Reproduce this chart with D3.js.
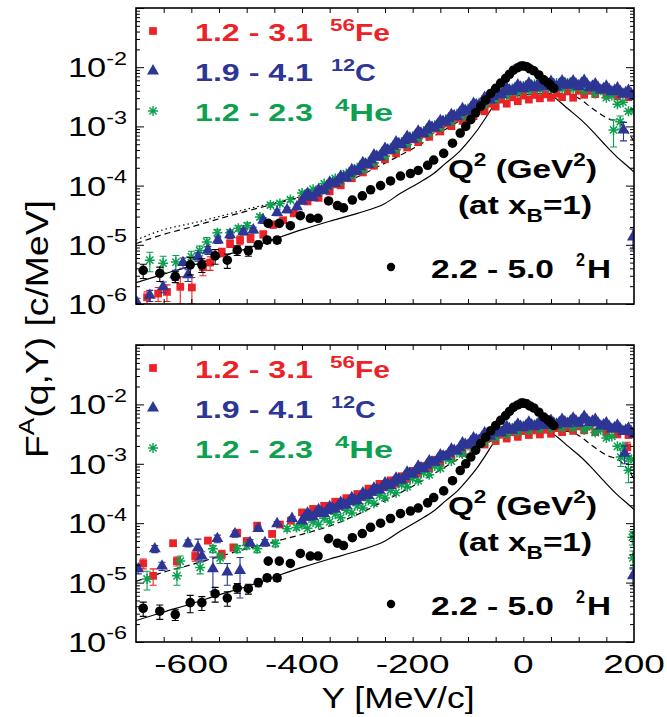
<!DOCTYPE html>
<html><head><meta charset="utf-8">
<script src="https://cdn.jsdelivr.net/npm/d3@7"></script>
<style>
body{margin:0;background:#fff}
text{font-family:"Liberation Sans",Arial,Helvetica,sans-serif;white-space:pre}
</style></head>
<body><svg id="chart" width="667" height="717"></svg>
<script>
// ---------------- DATA ----------------
const gridY = [-400,-390,-380,-370,-360,-350,-340,-330,-320,-310,-300,-290,-280,-270,-260,-250,-240,-230,-220,-210,-200,-190,-180,-170,-160,-150,-140,-130,-120,-110,-100,-90,-80,-70,-60,-50,-40,-30,-20,-10,0,10,20,30,40,50,60,70,80,90,100,110,120,130,140,150,160,170,180,190,200];
const gridY2 = [-395,-385,-375,-365,-355,-345,-335,-325,-315,-305,-295,-285,-275,-265,-255,-245,-235,-225,-215,-205,-195,-185,-175,-165,-155,-145,-135,-125,-115,-105,-95,-85,-75,-65,-55,-45,-35,-25,-15,-5,5,15,25,35,45,55,65,75,85,95,105,115,125,135,145,155,165,175,185,195];

// top panel, dense region (values on gridY)
const topC = [5.5e-5,7.4e-5,6.3e-5,8.5e-5,8.4e-5,1.14e-4,1.08e-4,1.44e-4,1.36e-4,1.86e-4,
1.76e-4,2.45e-4,2.25e-4,3.3e-4,3.05e-4,4.26e-4,3.93e-4,5.49e-4,4.94e-4,6.75e-4,
6.08e-4,8.3e-4,7.48e-4,1.02e-3,9.4e-4,1.25e-3,1.19e-3,1.58e-3,1.45e-3,1.99e-3,
1.79e-3,2.45e-3,2.25e-3,3.08e-3,2.78e-3,3.8e-3,3.42e-3,4.46e-3,3.93e-3,5.0e-3,
4.31e-3,5.36e-3,4.51e-3,5.6e-3,4.6e-3,5.75e-3,4.6e-3,5.88e-3,4.94e-3,5.88e-3,
4.72e-3,6.0e-3,4.51e-3,5.24e-3,4.11e-3,4.78e-3,3.84e-3,4.46e-3,3.5e-3,4.07e-3,3.19e-3];
// top panel, second 12C set (values on gridY2)
const topC2 = [6.4e-5,6.6e-5,7.4e-5,8.2e-5,9.8e-5,1.08e-4,1.24e-4,1.36e-4,1.6e-4,1.75e-4,
2.08e-4,2.3e-4,2.7e-4,3.1e-4,3.6e-4,4.0e-4,4.6e-4,5.1e-4,5.75e-4,6.3e-4,
7.1e-4,7.7e-4,8.7e-4,9.6e-4,1.08e-3,1.2e-3,1.35e-3,1.5e-3,1.7e-3,1.85e-3,
2.08e-3,2.3e-3,2.6e-3,2.9e-3,3.2e-3,3.55e-3,3.85e-3,4.1e-3,4.4e-3,4.6e-3,
4.75e-3,4.85e-3,4.95e-3,5.05e-3,5.05e-3,5.1e-3,5.15e-3,5.3e-3,5.25e-3,5.2e-3,
5.3e-3,5.15e-3,4.8e-3,4.55e-3,4.35e-3,4.2e-3,4.05e-3,3.9e-3,3.7e-3,3.55e-3];
const topFe = [5.5e-5,5.4e-5,6.3e-5,6.2e-5,8.4e-5,8.0e-5,1.05e-4,1.01e-4,1.35e-4,1.33e-4,
1.74e-4,1.67e-4,2.24e-4,2.16e-4,3.03e-4,2.78e-4,3.9e-4,3.5e-4,4.92e-4,4.41e-4,
6.05e-4,5.43e-4,7.44e-4,6.67e-4,9.15e-4,8.21e-4,1.12e-3,1.01e-3,1.39e-3,1.24e-3,
1.66e-3,1.49e-3,2.0e-3,1.8e-3,2.41e-3,2.16e-3,2.83e-3,2.42e-3,3.1e-3,2.66e-3,
3.32e-3,2.84e-3,3.4e-3,2.98e-3,3.48e-3,3.05e-3,3.56e-3,3.12e-3,3.9e-3,3.05e-3,
3.99e-3,3.42e-3,3.99e-3,3.5e-3,4.09e-3,3.42e-3,3.99e-3,3.2e-3,3.73e-3,3.12e-3,3.48e-3];
const topHe = [7.5e-5,6.8e-5,8.7e-5,8.0e-5,1.08e-4,9.9e-5,1.32e-4,1.19e-4,1.6e-4,1.46e-4,
2.0e-4,1.84e-4,2.52e-4,2.42e-4,3.32e-4,3.12e-4,4.28e-4,4.02e-4,5.39e-4,4.95e-4,
6.79e-4,6.23e-4,8.35e-4,7.66e-4,1.05e-3,9.45e-4,1.32e-3,1.19e-3,1.63e-3,1.49e-3,
2.0e-3,1.84e-3,2.52e-3,2.31e-3,3.1e-3,2.84e-3,3.82e-3,3.35e-3,4.38e-3,3.75e-3,
4.81e-3,4.02e-3,5.15e-3,4.21e-3,5.27e-3,4.31e-3,5.39e-3,4.31e-3,5.39e-3,4.31e-3,
5.15e-3,4.02e-3,4.7e-3,3.58e-3,4.09e-3,3.05e-3,3.32e-3,2.37e-3,2.57e-3,1.8e-3,1.83e-3];

// top panel, sparse points [Y, F, error]
const topFeSparse = [[-680,1.3e-6,0.3e-6],[-660,1.5e-6,0.4e-6],[-644,1.6e-6,0.5e-6],[-620,1.95e-6,0.95e-6],[-599,1.9e-6,0.9e-6],[-579,4.2e-6,1.2e-6],[-566,5.0e-6,1.3e-6],[-545,7.5e-6,1.2e-6],[-530,1.05e-5,1.5e-6],[-512,1.2e-5,2e-6],[-493,1.3e-5,2e-6],[-470,1.5e-5,2e-6],[-452,2.2e-5,3e-6],[-434,2.6e-5,3e-6],[-415,3.4e-5,4e-6]];
const topCSparse = [[-698,1.05e-6,0.2e-6],[-675,1.4e-6,0.3e-6],[-651,1.95e-6,0.4e-6],[-629,3.1e-6,0.6e-6],[-615,5.0e-6,1.0e-6],[-606,3.1e-6,0.7e-6],[-588,6.3e-6,1.0e-6],[-570,8.1e-6,1.2e-6],[-552,1.2e-5,1.5e-6],[-530,1.48e-5,2e-6],[-506,1.66e-5,2e-6],[-488,1.78e-5,2e-6],[-470,2.6e-5,3e-6],[-445,3.5e-5,4e-6],[-427,3.9e-5,4e-6],[-409,4.4e-5,5e-6],[181,8.7e-4,3e-4],[198,1.35e-5,5e-6]];
const topHeSparse = [[-675,5.5e-6,2e-6],[-651,4.9e-6,1.5e-6],[-628,5.1e-6,1.5e-6],[-600,6.3e-6,1.5e-6],[-585,8.0e-6,1.5e-6],[-572,1.12e-5,2e-6],[-553,1.6e-5,2e-6],[-530,1.6e-5,2e-6],[-515,1.9e-5,2e-6],[-499,2.1e-5,2.5e-6],[-476,2.95e-5,3e-6],[-457,4.7e-5,4e-6],[-440,5.0e-5,4e-6],[-421,5.8e-5,5e-6],[163,8.7e-4,4.2e-4],[175,1.2e-3,3e-4]];

// bottom panel, dense region (values on gridY)
const botC = [1.10e-4,1.48e-4,1.27e-4,1.69e-4,1.45e-4,1.9e-4,1.71e-4,2.24e-4,2.01e-4,2.69e-4,
2.36e-4,3.23e-4,2.91e-4,3.89e-4,3.58e-4,4.78e-4,4.31e-4,5.75e-4,5.29e-4,7.24e-4,
6.66e-4,9.1e-4,8.2e-4,1.12e-3,1.06e-3,1.41e-3,1.33e-3,1.77e-3,1.64e-3,2.24e-3,
2.06e-3,2.74e-3,2.47e-3,3.3e-3,2.91e-3,3.8e-3,3.34e-3,4.26e-3,3.66e-3,4.67e-3,
4.02e-3,5.0e-3,4.2e-3,5.24e-3,4.41e-3,5.36e-3,4.51e-3,5.61e-3,4.72e-3,5.88e-3,
4.83e-3,6.3e-3,4.94e-3,5.61e-3,4.31e-3,4.89e-3,3.84e-3,4.46e-3,3.5e-3,3.98e-3,3.12e-3];
// bottom panel, second 12C set (values on gridY2)
const botC2 = [1.27e-4,1.33e-4,1.45e-4,1.55e-4,1.63e-4,1.8e-4,1.92e-4,2.1e-4,2.3e-4,2.47e-4,
2.72e-4,3.0e-4,3.3e-4,3.7e-4,4.05e-4,4.5e-4,4.9e-4,5.45e-4,6.1e-4,6.85e-4,
7.7e-4,8.5e-4,9.5e-4,1.07e-3,1.2e-3,1.35e-3,1.5e-3,1.68e-3,1.88e-3,2.12e-3,
2.35e-3,2.56e-3,2.82e-3,3.05e-3,3.28e-3,3.5e-3,3.72e-3,3.9e-3,4.08e-3,4.27e-3,
4.42e-3,4.52e-3,4.62e-3,4.73e-3,4.79e-3,4.85e-3,4.95e-3,5.07e-3,5.2e-3,5.25e-3,
5.45e-3,5.5e-3,5.2e-3,4.85e-3,4.5e-3,4.27e-3,4.07e-3,3.9e-3,3.68e-3,3.47e-3];
const botFe = [1.52e-4,1.27e-4,1.74e-4,1.46e-4,1.96e-4,1.67e-4,2.3e-4,1.97e-4,2.64e-4,2.37e-4,
3.1e-4,2.78e-4,3.82e-4,3.35e-4,4.59e-4,4.02e-4,5.27e-4,4.62e-4,6.18e-4,5.55e-4,
7.61e-4,6.83e-4,9.15e-4,8.4e-4,1.16e-3,1.04e-3,1.42e-3,1.27e-3,1.71e-3,1.53e-3,
2.05e-3,1.8e-3,2.41e-3,2.11e-3,2.76e-3,2.42e-3,3.1e-3,2.66e-3,3.4e-3,2.84e-3,
3.56e-3,3.05e-3,3.64e-3,3.12e-3,3.73e-3,3.2e-3,3.99e-3,3.42e-3,4.09e-3,3.58e-3,
4.28e-3,3.66e-3,4.38e-3,3.42e-3,4.28e-3,3.35e-3,3.9e-3,3.12e-3,3.64e-3,3.05e-3,3.48e-3];
const botHe = [9.4e-5,8.2e-5,1.05e-4,9.5e-5,1.21e-4,1.05e-4,1.42e-4,1.24e-4,1.66e-4,1.49e-4,
1.96e-4,1.8e-4,2.41e-4,2.16e-4,2.96e-4,2.66e-4,3.56e-4,3.27e-4,4.48e-4,4.11e-4,
5.64e-4,5.18e-4,7.11e-4,6.52e-4,9.15e-4,8.4e-4,1.21e-3,1.11e-3,1.55e-3,1.46e-3,
2.05e-3,1.88e-3,2.57e-3,2.31e-3,3.1e-3,2.72e-3,3.56e-3,3.12e-3,3.99e-3,3.42e-3,
4.38e-3,3.66e-3,4.59e-3,3.84e-3,4.81e-3,3.93e-3,4.92e-3,4.02e-3,5.03e-3,4.02e-3,
4.81e-3,3.75e-3,4.38e-3,3.35e-3,3.73e-3,2.72e-3,2.89e-3,1.97e-3,1.96e-3,1.24e-3,1.18e-3];

// bottom panel, sparse points [Y, F, error]
const botFeSparse = [[-687,2.1e-5,4e-6],[-669,1.3e-5,4e-6],[-633,4.6e-5,5e-6],[-626,2.3e-5,4e-6],[-593,2.8e-5,5e-6],[-570,5.1e-5,6e-6],[-545,3.0e-5,5e-6],[-524,3.9e-5,5e-6],[-517,6.9e-5,7e-6],[-500,5.0e-5,6e-6],[-481,9.1e-5,8e-6],[-454,6.6e-5,7e-6],[-440,9.5e-5,8e-6],[-420,1.1e-4,1e-5],[188,1.9e-3,4e-4]];
const botCSparse = [[-696,1.7e-5,3e-6],[-666,3.7e-5,5e-6],[-653,1.9e-5,3e-6],[-606,4.6e-5,6e-6],[-588,3.9e-5,1.5e-5],[-581,2.8e-5,5e-6],[-561,1.7e-5,1.0e-5],[-553,5.5e-5,8e-6],[-535,1.5e-5,6e-6],[-521,6.6e-5,8e-6],[-512,1.6e-5,1.05e-5],[-494,4.7e-5,6e-6],[-479,8.1e-5,8e-6],[-467,4.7e-5,6e-6],[-445,9.8e-5,9e-6],[-418,1.2e-4,1e-5],[183,1.5e-3,5e-4],[198,1.3e-5,4e-6]];
const botHeSparse = [[-680,1.15e-5,4e-6],[-626,1.3e-5,4e-6],[-620,2.3e-5,5e-6],[-584,1.8e-5,4e-6],[-561,3.7e-5,5e-6],[-548,2.6e-5,5e-6],[-517,3.7e-5,5e-6],[-500,4.2e-5,5e-6],[-481,3.7e-5,5e-6],[-448,4.6e-5,6e-6],[-427,8.1e-5,8e-6],[-410,8.5e-5,8e-6],[176,1.3e-3,4e-4],[190,7.8e-4,3e-4],[197,5.8e-5,1.5e-5],[198,2.6e-5,8e-6]];

// deuteron data (both panels) [Y, F, error]
const deut = [[-687,3.7e-6,1.0e-6],[-657,3.3e-6,0.9e-6],[-629,2.9e-6,0.6e-6],[-602,4.6e-6,1.5e-6],[-581,4.6e-6,1.2e-6],[-557,6.5e-6,1.8e-6],[-535,5.5e-6,1.5e-6],[-517,8.1e-6,1.5e-6],[-497,7.9e-6,1.5e-6],[-479,1.0e-5,1.5e-6],[-463,1.2e-5,1.5e-6],[-445,1.2e-5,1.5e-6],
[-461,2.3e-5,2e-6],[-441,2.3e-5,2e-6],[-421,2.1e-5,2e-6],[-403,3.1e-5,2.5e-6],[-385,2.8e-5,2.5e-6],[-371,2.8e-5,2.5e-6],[-352,5.5e-5,3e-6],[-336,4.6e-5,3e-6],[-325,4.2e-5,3e-6],[-309,5.7e-5,3e-6],[-291,6.7e-5,4e-6],[-276,8.5e-5,4e-6],[-258,1.0e-4,5e-6],[-240,1.2e-4,5e-6],[-222,1.45e-4,6e-6],[-204,1.6e-4,6e-6],[-190,1.8e-4,7e-6],[-173,2.2e-4,8e-6],[-162,2.7e-4,9e-6],[-144,3.5e-4,1e-5],[-128,5.2e-4,1.5e-5],[-114,7.7e-4,2e-5],[-104,1.0e-3,2e-5],[-95,1.3e-3,3e-5],[-86,1.7e-3,3e-5],[-77,2.2e-3,4e-5],[-68,2.8e-3,5e-5],[-59,3.6e-3,5e-5],[-50,4.4e-3,6e-5],[-41,5.4e-3,7e-5],[-32,6.5e-3,8e-5],[-25,7.6e-3,9e-5],[-18,8.9e-3,1e-4],[-10,9.8e-3,1e-4],[-4,1.05e-2,1e-4],[0,1.05e-2,1e-4],[6,1.02e-2,1e-4],[12,9.4e-3,1e-4],[19,8.7e-3,1e-4],[28,7.4e-3,1e-4],[37,6.1e-3,8e-5],[44,5.5e-3,7e-5],[49,5.0e-3,7e-5],[55,4.4e-3,6e-5]];

// model curves [Y, F]
const solidCurve = [[-700,2.3e-6],[-650,3.2e-6],[-600,4.4e-6],[-550,6.2e-6],[-500,8.6e-6],[-450,1.25e-5],[-400,1.8e-5],[-350,2.5e-5],[-300,3.4e-5],[-250,5.0e-5],[-222,7.4e-5],[-190,1.1e-4],[-162,1.6e-4],[-140,2.4e-4],[-119,3.5e-4],[-100,5.5e-4],[-83,8.7e-4],[-68,1.4e-3],[-54,2.2e-3],[-40,2.9e-3],[-20,3.6e-3],[0,4.0e-3],[20,4.1e-3],[40,3.8e-3],[62,2.8e-3],[80,2.0e-3],[104,1.3e-3],[125,8.3e-4],[145,5.2e-4],[170,3.0e-4],[189,2.1e-4],[200,1.7e-4]];
const dashedCurve = [[-700,1.05e-5],[-650,1.5e-5],[-600,2.0e-5],[-550,2.75e-5],[-500,3.7e-5],[-450,4.9e-5],[-400,6.5e-5],[-350,9.0e-5],[-300,1.4e-4],[-250,2.4e-4],[-200,4.2e-4],[-150,7.9e-4],[-100,1.5e-3],[-50,2.6e-3],[0,3.4e-3],[50,3.6e-3],[80,3.5e-3],[100,3.0e-3],[122,2.1e-3],[150,1.4e-3],[176,1.1e-3],[200,5.6e-4]];
const dottedCurve = [[-700,1.2e-5],[-650,1.8e-5],[-600,2.3e-5],[-550,3.0e-5],[-500,4.0e-5],[-450,5.1e-5],[-400,6.6e-5],[-350,9.1e-5]];

// ticks & labels
const xMinorTicks = [-650,-600,-550,-500,-450,-400,-350,-300,-250,-200,-150,-100,-50,0,50,100,150];
const xTickVals = [-600,-400,-200,0,200];
const xTickLabels = ["-600","-400","-200","0","200"];
const yTickVals = [1e-6,1e-5,1e-4,1e-3,1e-2];
const yTickExp = ["-6","-5","-4","-3","-2"];
const legendRanges = ["1.2 - 3.1","1.9 - 4.1","1.2 - 2.3"];
const legendMass = ["56","12","4"];
const legendElem = ["Fe","C","He"];
const deutRange = "2.2 - 5.0";

// ---------------- DRAW ----------------
const RED = "#ec2227", BLUE = "#2d3595", GREEN = "#0ba14f";
const svg = d3.select("#chart");
svg.append("rect").attr("width",667).attr("height",717).attr("fill","#fff");
const x = d3.scaleLinear().domain([-700,200]).range([136,634]);

function rich(parent, parts, o) {
  const outer = parent.append("g").attr("transform", o.transform);
  const inner = outer.append("g");
  const els = parts.map(([t,k]) => {
    const fs = k === "n" ? o.size : o.size * (o.supScale || 0.68);
    const dy = k === "sup" ? -o.size*0.45 : (k === "sub" ? o.size*0.3 : 0);
    return inner.append("text").attr("y", dy).attr("font-size", fs)
      .attr("font-weight", o.weight || "normal").attr("fill", o.color || "#000").text(t);
  });
  const nat = els.map(e => e.node().getComputedTextLength());
  const total = d3.sum(nat);
  const sx = o.width ? o.width / total : (o.sx || 1);
  let cx = 0;
  els.forEach((e,i) => { const w = nat[i]*sx; e.attr("x", cx).attr("textLength", w).attr("lengthAdjust","spacingAndGlyphs"); cx += w; });
  const off = o.anchor === "end" ? -cx : (o.anchor === "middle" ? -cx/2 : 0);
  inner.attr("transform", `translate(${off},0)`);
}

const sqSym = d3.symbol().type(d3.symbolSquare).size(60)();
const triSym = d3.symbol().type(d3.symbolTriangle).size(62)();
const starPath = "M-5,0H5M0,-5V5M-3.6,-3.6L3.6,3.6M-3.6,3.6L3.6,-3.6";

function drawMarkers(g, pts, kind, y) {
  const sel = g.append("g").selectAll("path").data(pts).join("path")
    .attr("transform", d => `translate(${x(d[0])},${y(d[1])})`);
  if (kind === "fe") sel.attr("d", sqSym).attr("fill", RED);
  else if (kind === "c") sel.attr("d", triSym).attr("fill", BLUE);
  else if (kind === "he") sel.attr("d", starPath).attr("fill","none").attr("stroke", GREEN).attr("stroke-width",1.5);
  else sel.attr("d", d3.symbol().type(d3.symbolCircle).size(72)()).attr("fill","#000");
}
function drawErr(g, pts, color, y) {
  g.append("g").selectAll("path").data(pts).join("path")
    .attr("d", d => {
      const px = x(d[0]), lo = y(Math.max(d[1]-d[2], 1e-8)), hi = y(d[1]+d[2]);
      return `M${px},${lo}V${hi}M${px-3.5},${lo}h7M${px-3.5},${hi}h7`;
    })
    .attr("stroke", color).attr("stroke-width",1.1).attr("fill","none");
}

const panels = [
  {top:8, bottom:304, fe:topFe, c:topC, c2:topC2, he:topHe, feS:topFeSparse, cS:topCSparse, heS:topHeSparse, dotted:true, xlabels:false},
  {top:345, bottom:642, fe:botFe, c:botC, c2:botC2, he:botHe, feS:botFeSparse, cS:botCSparse, heS:botHeSparse, dotted:false, xlabels:true}
];

panels.forEach((p, pi) => {
  const y = d3.scaleLog().domain([1e-6,1e-1]).range([p.bottom, p.top]);
  const clipId = "clip"+pi;
  svg.append("clipPath").attr("id", clipId).append("rect")
    .attr("x",136).attr("y",p.top).attr("width",634-136).attr("height",p.bottom-p.top);
  const g = svg.append("g").attr("clip-path", `url(#${clipId})`);

  const line = d3.line().x(d => x(d[0])).y(d => y(d[1])).curve(d3.curveMonotoneX);
  g.append("path").attr("d", line(solidCurve)).attr("fill","none").attr("stroke","#000").attr("stroke-width",1.2);
  g.append("path").attr("d", line(dashedCurve)).attr("fill","none").attr("stroke","#000").attr("stroke-width",1.2).attr("stroke-dasharray","6,4");
  if (p.dotted) g.append("path").attr("d", line(dottedCurve)).attr("fill","none").attr("stroke","#000").attr("stroke-width",1.2).attr("stroke-dasharray","1.5,3");

  const dense = (grid, arr) => grid.map((Y,i) => [Y, arr[i]]).filter(d => d[1] != null);

  drawErr(g, p.feS, RED, y);
  drawMarkers(g, p.feS, "fe", y);
  drawMarkers(g, dense(gridY, p.fe), "fe", y);
  drawErr(g, p.heS, GREEN, y);
  drawMarkers(g, p.heS, "he", y);
  drawMarkers(g, dense(gridY, p.he), "he", y);
  drawErr(g, p.cS, BLUE, y);
  drawMarkers(g, p.cS, "c", y);
  drawMarkers(g, dense(gridY2, p.c2), "c", y);
  drawMarkers(g, dense(gridY, p.c), "c", y);
  drawErr(g, deut, "#000", y);
  drawMarkers(g, deut, "h", y);

  // axes ticks (inward)
  const ax = svg.append("g").attr("stroke-width",1);
  ax.append("g").attr("transform",`translate(0,${p.bottom})`)
    .call(d3.axisBottom(x).tickValues(xMinorTicks).tickSize(-5).tickSizeOuter(0).tickFormat(""));
  ax.append("g").attr("transform",`translate(0,${p.top})`)
    .call(d3.axisTop(x).tickValues(xMinorTicks).tickSize(-5).tickSizeOuter(0).tickFormat(""));
  const allY = y.ticks();
  const majorY = allY.filter(v => Math.abs(Math.log10(v) - Math.round(Math.log10(v))) < 1e-6);
  const minorY = allY.filter(v => !majorY.includes(v));
  ax.append("g").attr("transform","translate(136,0)").call(d3.axisLeft(y).tickValues(minorY).tickSize(-4).tickSizeOuter(0).tickFormat(""));
  ax.append("g").attr("transform","translate(136,0)").call(d3.axisLeft(y).tickValues(majorY).tickSize(-8).tickSizeOuter(0).tickFormat(""));
  ax.append("g").attr("transform","translate(634,0)").call(d3.axisRight(y).tickValues(minorY).tickSize(-4).tickSizeOuter(0).tickFormat(""));
  ax.append("g").attr("transform","translate(634,0)").call(d3.axisRight(y).tickValues(majorY).tickSize(-8).tickSizeOuter(0).tickFormat(""));
  ax.selectAll(".domain").remove();
  ax.selectAll(".tick line").attr("stroke","#000");

  svg.append("rect").attr("x",136).attr("y",p.top).attr("width",634-136).attr("height",p.bottom-p.top)
    .attr("fill","none").attr("stroke","#000").attr("stroke-width",1.6);

  // y tick labels
  yTickVals.forEach((v,i) => {
    rich(svg, [["10","n"],[yTickExp[i],"sup"]], {transform:`translate(127,${y(v)+10})`, size:28, width:59, anchor:"end"});
  });
  // x tick labels
  if (p.xlabels) {
    xTickVals.forEach((v,i) => {
      rich(svg, [[xTickLabels[i],"n"]], {transform:`translate(${x(v)},${p.bottom+31})`, size:25, sx:1.48, anchor:"middle"});
    });
  }

  // legend
  const off = p.top - 8;
  const rowsY = [41, 81, 121];
  const colors = [RED, BLUE, GREEN];
  const kinds = ["fe","c","he"];
  const elemX = [[330,60],[331,45],[335,58]];
  rowsY.forEach((ry,i) => {
    const mk = svg.append("path").attr("transform",`translate(153,${ry-10+off})`);
    if (kinds[i]==="fe") mk.attr("d", sqSym).attr("fill", RED);
    else if (kinds[i]==="c") mk.attr("d", triSym).attr("fill", BLUE);
    else mk.attr("d", starPath).attr("fill","none").attr("stroke",GREEN).attr("stroke-width",1.4);
    rich(svg, [[legendRanges[i],"n"]], {transform:`translate(195,${ry+off})`, size:23, weight:"bold", color:colors[i], width:118});
    rich(svg, [[legendMass[i],"sup"],[legendElem[i],"n"]], {transform:`translate(${elemX[i][0]},${ry+off})`, size:23, weight:"bold", color:colors[i], width:elemX[i][1], supScale:0.75});
  });

  rich(svg, [["Q","n"],["2","sup"],[" (GeV","n"],["2","sup"],[")","n"]], {transform:`translate(448,${178+off})`, size:26, weight:"bold", width:149});
  rich(svg, [["(at x","n"],["B","sub"],["=1)","n"]], {transform:`translate(458,${214+off})`, size:26, weight:"bold", width:134});
  svg.append("circle").attr("cx",391).attr("cy",267+off).attr("r",4.2).attr("fill","#000");
  rich(svg, [[deutRange,"n"]], {transform:`translate(431,${278+off})`, size:26, weight:"bold", width:123});
  rich(svg, [["2","sup"]], {transform:`translate(576,${278+off})`, size:26, weight:"bold", width:9});
  rich(svg, [["H","n"]], {transform:`translate(587,${278+off})`, size:26, weight:"bold", width:24});
});

// axis titles
rich(svg, [["F","n"],["A","sup"],["(q,Y) [c/MeV]","n"]], {transform:"translate(48,329) rotate(-90)", size:31, width:258, anchor:"middle", supScale:0.7});
rich(svg, [["Y [MeV/c]","n"]], {transform:"translate(398,708)", size:29, width:153, anchor:"middle"});
</script>
</body></html>
